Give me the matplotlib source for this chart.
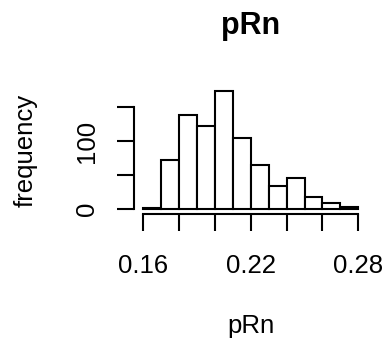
import matplotlib
matplotlib.use("Agg")
import matplotlib.pyplot as plt

plt.rcParams['font.family'] = ['Liberation Sans', 'DejaVu Sans']

# histogram of pRn, bin width 0.01
bin_edges = [0.16, 0.17, 0.18, 0.19, 0.20, 0.21, 0.22, 0.23, 0.24, 0.25, 0.26, 0.27, 0.28]
counts = [2, 72, 138, 123, 174, 104, 65, 34, 46, 17, 9, 3]
x_ticks = [0.16, 0.18, 0.20, 0.22, 0.24, 0.26, 0.28]
x_labels = ['0.16', '', '', '0.22', '', '', '0.28']
y_ticks = [0, 50, 100, 150]
y_labels = ['0', '', '100', '']

fig = plt.figure(figsize=(3.87, 3.43), dpi=100)
ax = fig.add_axes([0.3473, 0.377, 0.601, 0.3714])

widths = [b - a for a, b in zip(bin_edges[:-1], bin_edges[1:])]
ax.bar(bin_edges[:-1], counts, width=widths, align='edge',
       color='white', edgecolor='black', linewidth=1.5)

# R style: 4% padding, axes only across tick range
xr = bin_edges[-1] - bin_edges[0]
ax.set_xlim(bin_edges[0] - 0.04 * xr, bin_edges[-1] + 0.04 * xr)
ym = max(counts)
ax.set_ylim(-0.04 * ym, ym * 1.04)

for s in ['top', 'right']:
    ax.spines[s].set_visible(False)
ax.spines['left'].set_bounds(y_ticks[0], y_ticks[-1])
ax.spines['bottom'].set_bounds(x_ticks[0], x_ticks[-1])
ax.spines['left'].set_linewidth(1.5)
ax.spines['bottom'].set_linewidth(1.5)

ax.set_xticks(x_ticks)
ax.set_xticklabels(x_labels)
ax.set_yticks(y_ticks)
ax.set_yticklabels(y_labels, rotation=90, va='center')
ax.tick_params(axis='both', length=12.2, width=1.5, labelsize=18.5)
ax.tick_params(axis='x', pad=17)
ax.tick_params(axis='y', pad=13.5)

ax.set_title('pRn', fontsize=22, fontweight='bold', pad=38)
ax.set_xlabel('pRn', fontsize=18.5, labelpad=26)
ax.set_ylabel('frequency', fontsize=18.5, labelpad=27)

fig.savefig('out.png', dpi=100)
